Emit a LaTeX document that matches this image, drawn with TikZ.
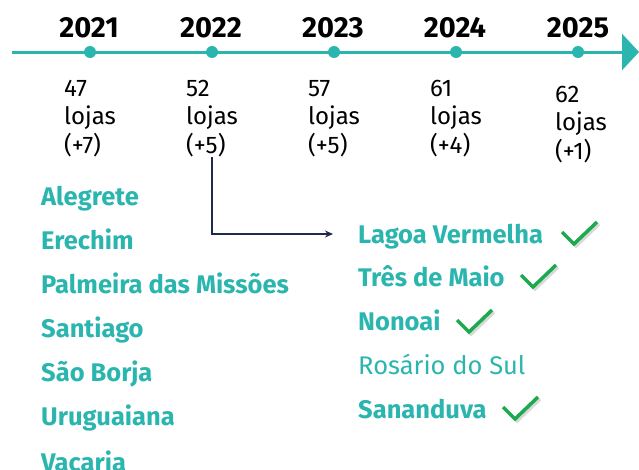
\documentclass[tikz,border=0pt]{standalone}
\usepackage{fontspec}
\setmainfont[Numbers=Lining]{Fira Sans}
\usetikzlibrary{positioning,arrows.meta}
\definecolor{teal1}{HTML}{2BB5AF}
\definecolor{navy1}{HTML}{1F2B4D}
\definecolor{okgreen}{HTML}{1DAA4F}
\tikzset{year/.style={font=\bfseries\fontsize{29}{34}\selectfont, anchor=base, inner sep=0pt},
	count/.style={font=\fontsize{24}{28.5}\selectfont, align=left, anchor=base west, inner sep=0pt},
	city/.style={font=\bfseries\fontsize{25.5}{30}\selectfont, text=teal1, anchor=base west, inner sep=0pt},
	plain/.style={font=\fontsize{25.5}{30}\selectfont, text=teal1, anchor=base west, inner sep=0pt},
	dot/.style={circle, fill=teal1, inner sep=0pt, minimum size=12pt},
	link/.style={draw=navy1, line width=1.5pt, -{Stealth[length=8pt,width=7pt]}},
	okmark/.pic={
		\draw[black!25, line width=3.5pt, opacity=0.6] (2,12) -- (14,24) -- (37,2);
		\draw[okgreen, line width=3.5pt] (0,10) -- (12,22) -- (35,0);}}

\begin{document}
\begin{tikzpicture}[x=1pt, y=-1pt]
				\useasboundingbox (0,0) rectangle (639,469);
				\clip (0,0) rectangle (639,469);

				% time line
				\coordinate (tstart) at (12,52);
				\coordinate (tend) at (639,52);
				\draw[teal1, line width=3pt, -{Triangle[length=17pt,width=36pt]}] (tstart) -- (tend);

				\node[dot] (d21) at (90,52) {};
				\node[dot] (d22) at (212,52) {};
				\node[dot] (d23) at (334,52) {};
				\node[dot] (d24) at (456,52) {};
				\node[dot] (d25) at (578,52) {};

				\node[year] (y21) at (89,37) {2021};
				\node[year] (y22) at (211,37) {2022};
				\node[year] (y23) at (333,37) {2023};
				\node[year] (y24) at (455,37) {2024};
				\node[year] (y25) at (578,37) {2025};

				\node[count] (c21) at (64,153) {47\\lojas\\(+7)};
				\node[count] (c22) at (186,153) {52\\lojas\\(+5)};
				\node[count] (c23) at (308,153) {57\\lojas\\(+5)};
				\node[count] (c24) at (430,153) {61\\lojas\\(+4)};
				\node[count] (c25) at (555,159) {62\\lojas\\(+1)};

				% cities
				\node[city] (alegrete) at (41,205) {Alegrete};
				\node[city] (erechim) at (41,249) {Erechim};
				\node[city] (palmeira) at (41,293) {Palmeira das Missões};
				\node[city] (santiago) at (41,337) {Santiago};
				\node[city] (borja) at (41,381) {São Borja};
				\node[city] (uruguaiana) at (41,425) {Uruguaiana};
				\node[city] (vacaria) at (41,471) {Vacaria};

				\node[city] (lagoa) at (358,243) {Lagoa Vermelha};
				\node[city] (tres) at (358,286) {Três de Maio};
				\node[city] (nonoai) at (358,330) {Nonoai};
				\node[plain] (rosario) at (358,374) {Rosário do Sul};
				\node[city] (sananduva) at (358,418) {Sananduva};

				\pic at (562,222) {okmark};
				\pic at (521,265) {okmark};
				\pic at (457,310) {okmark};
				\pic at (503,397) {okmark};

				\coordinate (bend) at (212,234);
				\coordinate (target) at (333,234);
				\path[link] (d22 |- c22.south) -- (bend) -- (target);
			\end{tikzpicture}
\end{document}
